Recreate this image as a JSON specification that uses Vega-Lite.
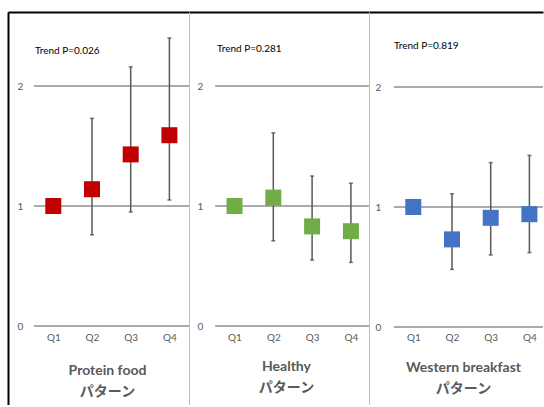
{
  "$schema": "https://vega.github.io/schema/vega-lite/v6.json",
  "padding": {"left": 8, "top": 12, "right": 0, "bottom": 0},
  "spacing": 0,
  "bounds": "flush",
  "datasets": {
    "rr": [
      {"pattern": "Protein food", "qn": 1, "or": 1.0, "lo": null, "hi": null},
      {"pattern": "Protein food", "qn": 2, "or": 1.14, "lo": 0.76, "hi": 1.73},
      {"pattern": "Protein food", "qn": 3, "or": 1.43, "lo": 0.95, "hi": 2.16},
      {"pattern": "Protein food", "qn": 4, "or": 1.59, "lo": 1.05, "hi": 2.4},
      {"pattern": "Healthy", "qn": 1, "or": 1.0, "lo": null, "hi": null},
      {"pattern": "Healthy", "qn": 2, "or": 1.07, "lo": 0.71, "hi": 1.61},
      {"pattern": "Healthy", "qn": 3, "or": 0.83, "lo": 0.55, "hi": 1.25},
      {"pattern": "Healthy", "qn": 4, "or": 0.79, "lo": 0.53, "hi": 1.19},
      {"pattern": "Western breakfast", "qn": 1, "or": 1.0, "lo": null, "hi": null},
      {"pattern": "Western breakfast", "qn": 2, "or": 0.73, "lo": 0.48, "hi": 1.11},
      {"pattern": "Western breakfast", "qn": 3, "or": 0.91, "lo": 0.6, "hi": 1.37},
      {"pattern": "Western breakfast", "qn": 4, "or": 0.94, "lo": 0.62, "hi": 1.43}
    ],
    "grid": [{"v": 0}, {"v": 1}, {"v": 2}]
  },
  "hconcat": [
    {
      "width": 181, "height": 393,
      "title": {"text": "Trend P=0.026", "anchor": "start", "frame": "group", "orient": "top", "offset": -49, "dx": 27, "baseline": "middle", "fontSize": 10, "fontWeight": "normal", "color": "#000000", "font": "Lato"},
      "layer": [
        {
          "data": {"name": "grid"},
          "mark": {"type": "rule", "color": "#595959", "strokeWidth": 1},
          "encoding": {
            "y": {"field": "v", "type": "quantitative", "scale": {"domain": [-0.6583, 2.6167], "nice": false, "zero": false},
              "axis": {"orient": "left", "values": [0, 1, 2], "format": "d", "grid": false, "ticks": false, "tickSize": 0, "domain": true, "domainColor": "#000000", "domainWidth": 2, "labelAlign": "center", "labelPadding": -12, "labelFlush": false, "labelColor": "#595959", "labelFontSize": 10, "labelFont": "Lato", "title": null, "minExtent": 0}},
            "x": {"datum": 0.5, "type": "quantitative", "scale": {"domain": [-0.1705, 4.5065], "nice": false, "zero": false},
              "axis": {"orient": "top", "labels": false, "ticks": false, "tickSize": 0, "grid": false, "domain": true, "domainColor": "#000000", "domainWidth": 2, "title": null, "minExtent": 0}},
            "x2": {"value": "width"}
          }
        },
        {
          "data": {"name": "rr"},
          "transform": [{"filter": "datum.pattern === 'Protein food'"}],
          "encoding": {
            "x": {"field": "qn", "type": "quantitative", "scale": {"domain": [-0.1705, 4.5065], "nice": false, "zero": false},
              "axis": {"orient": "bottom", "offset": -75, "values": [1, 2, 3, 4], "labelExpr": "'Q' + datum.value", "grid": false, "ticks": false, "tickSize": 0, "domain": false, "labelFlush": false, "labelColor": "#595959", "labelFontSize": 10, "labelFont": "Lato", "labelPadding": 2, "title": ["Protein food", "パターン"], "titleFont": "Lato, Noto Sans CJK JP", "titleFontSize": 14, "titleFontWeight": "bold", "titleColor": "#595959", "titleX": 99, "titleY": 33, "titleAlign": "center", "titleBaseline": "top", "titleLineHeight": 21, "minExtent": 0}}
          },
          "layer": [
            {"mark": {"type": "rule", "color": "#595959", "strokeWidth": 1.5}, "encoding": {"y": {"field": "lo", "type": "quantitative"}, "y2": {"field": "hi"}}},
            {"mark": {"type": "tick", "orient": "horizontal", "size": 4, "thickness": 1.5, "color": "#404040"}, "encoding": {"y": {"field": "lo", "type": "quantitative"}}},
            {"mark": {"type": "tick", "orient": "horizontal", "size": 4, "thickness": 1.5, "color": "#404040"}, "encoding": {"y": {"field": "hi", "type": "quantitative"}}},
            {"mark": {"type": "square", "size": 256, "filled": true, "opacity": 1, "color": "#C00000"}, "encoding": {"y": {"field": "or", "type": "quantitative"}}}
          ]
        }
      ],
      "resolve": {"axis": {"x": "independent"}}
    },
    {
      "width": 180, "height": 393,
      "title": {"text": "Trend P=0.281", "anchor": "start", "frame": "group", "orient": "top", "offset": -47, "dx": 28, "baseline": "middle", "fontSize": 10, "fontWeight": "normal", "color": "#000000", "font": "Lato"},
      "layer": [
        {
          "data": {"name": "grid"},
          "mark": {"type": "rule", "color": "#595959", "strokeWidth": 1},
          "encoding": {
            "y": {"field": "v", "type": "quantitative", "scale": {"domain": [-0.6583, 2.6167], "nice": false, "zero": false},
              "axis": {"orient": "left", "values": [0, 1, 2], "format": "d", "grid": false, "ticks": false, "tickSize": 0, "domain": true, "domainColor": "#bfbfbf", "domainWidth": 1, "labelAlign": "center", "labelPadding": -11, "labelFlush": false, "labelColor": "#595959", "labelFontSize": 10, "labelFont": "Lato", "title": null, "minExtent": 0}},
            "x": {"datum": 0.5, "type": "quantitative", "scale": {"domain": [-0.1727, 4.4665], "nice": false, "zero": false},
              "axis": {"orient": "top", "labels": false, "ticks": false, "tickSize": 0, "grid": false, "domain": true, "domainColor": "#000000", "domainWidth": 2, "title": null, "minExtent": 0}},
            "x2": {"value": "width"}
          }
        },
        {
          "data": {"name": "rr"},
          "transform": [{"filter": "datum.pattern === 'Healthy'"}],
          "encoding": {
            "x": {"field": "qn", "type": "quantitative", "scale": {"domain": [-0.1727, 4.4665], "nice": false, "zero": false},
              "axis": {"orient": "bottom", "offset": -75, "values": [1, 2, 3, 4], "labelExpr": "'Q' + datum.value", "grid": false, "ticks": false, "tickSize": 0, "domain": false, "labelFlush": false, "labelColor": "#595959", "labelFontSize": 10, "labelFont": "Lato", "labelPadding": 2, "title": ["Healthy", "パターン"], "titleFont": "Lato, Noto Sans CJK JP", "titleFontSize": 14, "titleFontWeight": "bold", "titleColor": "#595959", "titleX": 97, "titleY": 29, "titleAlign": "center", "titleBaseline": "top", "titleLineHeight": 21, "minExtent": 0}}
          },
          "layer": [
            {"mark": {"type": "rule", "color": "#595959", "strokeWidth": 1.5}, "encoding": {"y": {"field": "lo", "type": "quantitative"}, "y2": {"field": "hi"}}},
            {"mark": {"type": "tick", "orient": "horizontal", "size": 4, "thickness": 1.5, "color": "#404040"}, "encoding": {"y": {"field": "lo", "type": "quantitative"}}},
            {"mark": {"type": "tick", "orient": "horizontal", "size": 4, "thickness": 1.5, "color": "#404040"}, "encoding": {"y": {"field": "hi", "type": "quantitative"}}},
            {"mark": {"type": "square", "size": 256, "filled": true, "opacity": 1, "color": "#70AD47"}, "encoding": {"y": {"field": "or", "type": "quantitative"}}}
          ]
        }
      ],
      "resolve": {"axis": {"x": "independent"}}
    },
    {
      "width": 174, "height": 393,
      "title": {"text": "Trend P=0.819", "anchor": "start", "frame": "group", "orient": "top", "offset": -44, "dx": 25, "baseline": "middle", "fontSize": 10, "fontWeight": "normal", "color": "#000000", "font": "Lato"},
      "layer": [
        {
          "data": {"name": "grid"},
          "mark": {"type": "rule", "color": "#595959", "strokeWidth": 1},
          "encoding": {
            "y": {"field": "v", "type": "quantitative", "scale": {"domain": [-0.65, 2.625], "nice": false, "zero": false},
              "axis": {"orient": "left", "values": [0, 1, 2], "format": "d", "grid": false, "ticks": false, "tickSize": 0, "domain": true, "domainColor": "#bfbfbf", "domainWidth": 1, "labelAlign": "center", "labelPadding": -9, "labelFlush": false, "labelColor": "#595959", "labelFontSize": 10, "labelFont": "Lato", "title": null, "minExtent": 0}},
            "x": {"datum": 0.5, "type": "quantitative", "scale": {"domain": [-0.1447, 4.3514], "nice": false, "zero": false},
              "axis": {"orient": "top", "labels": false, "ticks": false, "tickSize": 0, "grid": false, "domain": true, "domainColor": "#000000", "domainWidth": 2, "title": null, "minExtent": 0}},
            "x2": {"value": "width"}
          }
        },
        {
          "data": {"name": "rr"},
          "transform": [{"filter": "datum.pattern === 'Western breakfast'"}],
          "encoding": {
            "x": {"field": "qn", "type": "quantitative", "scale": {"domain": [-0.1447, 4.3514], "nice": false, "zero": false},
              "axis": {"orient": "bottom", "offset": -75, "values": [1, 2, 3, 4], "labelExpr": "'Q' + datum.value", "grid": false, "ticks": false, "tickSize": 0, "domain": false, "labelFlush": false, "labelColor": "#595959", "labelFontSize": 10, "labelFont": "Lato", "labelPadding": 2, "title": ["Western breakfast", "パターン"], "titleFont": "Lato, Noto Sans CJK JP", "titleFontSize": 14, "titleFontWeight": "bold", "titleColor": "#595959", "titleX": 94, "titleY": 30, "titleAlign": "center", "titleBaseline": "top", "titleLineHeight": 21, "minExtent": 0}}
          },
          "layer": [
            {"mark": {"type": "rule", "color": "#595959", "strokeWidth": 1.5}, "encoding": {"y": {"field": "lo", "type": "quantitative"}, "y2": {"field": "hi"}}},
            {"mark": {"type": "tick", "orient": "horizontal", "size": 4, "thickness": 1.5, "color": "#404040"}, "encoding": {"y": {"field": "lo", "type": "quantitative"}}},
            {"mark": {"type": "tick", "orient": "horizontal", "size": 4, "thickness": 1.5, "color": "#404040"}, "encoding": {"y": {"field": "hi", "type": "quantitative"}}},
            {"mark": {"type": "square", "size": 256, "filled": true, "opacity": 1, "color": "#4472C4"}, "encoding": {"y": {"field": "or", "type": "quantitative"}}}
          ]
        }
      ],
      "resolve": {"axis": {"x": "independent"}}
    }
  ],
  "config": {
    "view": {"stroke": null},
    "font": "Lato"
  }
}
